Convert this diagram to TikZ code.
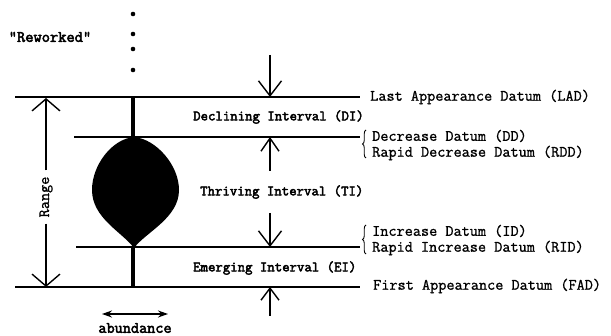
\documentclass[tikz,border=0pt]{standalone}
\usepackage{fontspec}
\setmainfont{Latin Modern Mono}[FakeBold=1.1]
\newfontfamily\heavyf{Latin Modern Mono}[FakeBold=3]
\usetikzlibrary{arrows.meta,decorations.pathreplacing}
\begin{document}
\begin{tikzpicture}[x=1pt,y=-1pt,
  datum/.style={line width=2.3pt},
  stem/.style={line width=4.5pt},
  ind/.style={line width=1.4pt,-{Straight Barb[length=15pt,width=23pt,line width=1.4pt]}},
  rng/.style={line width=1.4pt,-{Straight Barb[length=12pt,width=28pt,line width=1.4pt]}},
  lbl/.style={anchor=west,inner sep=0pt,font=\fontsize{15.8}{17}\selectfont},
  ilbl/.style={anchor=west,inner sep=0pt,font=\heavyf\fontsize{14.4}{16}\selectfont},
  brc/.style={decorate,decoration={brace,amplitude=3.5pt},line width=0.9pt}]
\useasboundingbox (0,0) rectangle (611,336);
% dots
\foreach \yy/\n in {14/a,34/b,49/c,70/d}
  \fill (133,\yy) circle (2.3pt) coordinate (dot\n);
\node[font=\heavyf\fontsize{16}{17}\selectfont] (rew) at (50,37) {"Reworked"};
% coordinates
\coordinate (ladL) at (15,97);  \coordinate (ladR) at (360,97);
\coordinate (ddL) at (74,137);  \coordinate (ddR) at (360,137);
\coordinate (idL) at (76,247);  \coordinate (idR) at (360,247);
\coordinate (fadL) at (15,287); \coordinate (fadR) at (360,287);
\coordinate (stT) at (133,97); \coordinate (stB) at (133,138);
\coordinate (st2T) at (133,246); \coordinate (st2B) at (133,287);
% datum lines
\draw[datum] (ladL) -- (ladR);
\draw[datum] (ddL) -- (ddR);
\draw[datum] (idL) -- (idR);
\draw[datum] (fadL) -- (fadR);
% stems
\draw[stem] (stT) -- (stB);
\draw[stem] (st2T) -- (st2B);
% blob
\fill (134,137) .. controls (112,139) and (92,165) .. (92,190)
  .. controls (92,218) and (122,232) .. (134,248)
  .. controls (146,232) and (179,218) .. (179,190)
  .. controls (179,165) and (156,139) .. (134,137) -- cycle;
% interval arrows
\coordinate (a1s) at (270,55);  \coordinate (a1e) at (270,97);
\coordinate (a2s) at (270,171); \coordinate (a2e) at (270,137);
\coordinate (a3s) at (270,213); \coordinate (a3e) at (270,247);
\coordinate (a4s) at (270,316); \coordinate (a4e) at (270,287);
\draw[ind] (a1s) -- (a1e);
\draw[ind,-{Straight Barb[length=13pt,width=18pt,line width=1.4pt]}] (a2s) -- (a2e);
\draw[ind] (a3s) -- (a3e);
\draw[ind,-{Straight Barb[length=12pt,width=18pt,line width=1.4pt]}] (a4s) -- (a4e);
% range
\node[rotate=90,inner xsep=6pt,inner ysep=2pt,font=\fontsize{15.8}{17}\selectfont] (range) at (46,197) {Range};
\coordinate (rT) at (46,98); \coordinate (rB) at (46,287);
\draw[rng] (range) -- (rT);
\draw[rng] (range) -- (rB);
% abundance
\coordinate (abL) at (102,314); \coordinate (abR) at (168,314);
\draw[line width=1.6pt,{Stealth[length=10pt,width=7pt]}-{Stealth[length=10pt,width=7pt]}] (abL) -- (abR);
\node[font=\heavyf\fontsize{15.8}{17}\selectfont] (abund) at (135,328) {abundance};
% interval labels
\node[ilbl] (di) at (193,117) {Declining Interval (DI)};
\node[ilbl] (ti) at (200,192) {Thriving Interval (TI)};
\node[ilbl] (ei) at (193,268) {Emerging Interval (EI)};
% datum labels
\node[lbl] (lad) at (370,97) {Last Appearance Datum (LAD)};
\node[lbl] (dd) at (372,136) {Decrease Datum (DD)};
\node[lbl] (rdd) at (372,153) {Rapid Decrease Datum (RDD)};
\node[lbl] (id) at (372,231) {Increase Datum (ID)};
\node[lbl] (rid) at (372,248) {Rapid Increase Datum (RID)};
\node[lbl] (fad) at (373,286) {First Appearance Datum (FAD)};
% braces
\draw[brc] (366,158) -- (366,130);
\draw[brc] (366,254) -- (366,225);
\end{tikzpicture}
\end{document}
